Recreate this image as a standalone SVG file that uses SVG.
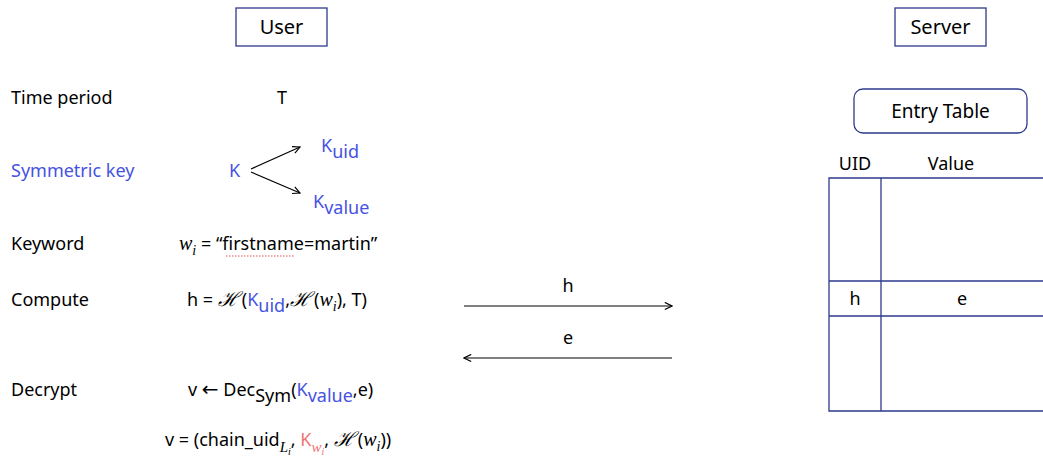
<svg xmlns="http://www.w3.org/2000/svg" width="1043" height="460" viewBox="0 0 1043 460">
<defs>
<style>
text{font-family:"Noto Sans","Open Sans",sans-serif;font-size:18px;fill:#000}
.blue{fill:#4552e2}
.red{fill:#f07373}
.math{font-family:"Liberation Serif","DejaVu Serif",serif;font-style:italic;font-size:20px}
.scr{font-family:"DejaVu Serif","Liberation Serif",serif;font-style:italic;font-size:20px}
.arrowch{font-family:"DejaVu Sans",sans-serif;font-size:20px}
.box{fill:#fff;stroke:#2e3a8c;stroke-width:1.3}
.tbl{fill:none;stroke:#2e3a8c;stroke-width:1.3}
.conn{fill:none;stroke:#000;stroke-width:1.2}
</style>
<marker id="arr" viewBox="0 0 10 10" refX="9" refY="5" markerWidth="9" markerHeight="9" markerUnits="userSpaceOnUse" orient="auto">
<path d="M1,1 L9,5 L1,9" fill="none" stroke="#000" stroke-width="1.3"/>
</marker>
</defs>
<rect width="1043" height="460" fill="#fff"/>

<g id="user">
<rect class="box" x="236" y="8" width="91" height="38"/>
<text x="281.5" y="34" text-anchor="middle" style="font-size:20px">User</text>
</g>
<g id="server">
<rect class="box" x="895" y="8" width="91" height="38"/>
<text x="940.5" y="34" text-anchor="middle" style="font-size:20px">Server</text>
</g>

<g id="labels">
<text x="11" y="104">Time period</text>
<text x="11" y="177" class="blue">Symmetric key</text>
<text x="11" y="250">Keyword</text>
<text x="11" y="306">Compute</text>
<text x="11" y="396">Decrypt</text>
</g>

<g id="time"><text x="282" y="104" text-anchor="middle">T</text></g>

<g id="keys">
<text x="229" y="177" class="blue">K</text>
<text x="321" y="152" class="blue">K<tspan dy="6">uid</tspan></text>
<text x="313" y="208" class="blue">K<tspan dy="6">value</tspan></text>
</g>

<g id="keyword">
<text x="179" y="250"><tspan class="math">w</tspan><tspan class="math" style="font-size:14px" dy="5">i</tspan><tspan dy="-5"> = “firstname=martin”</tspan></text>
<line x1="226" y1="256" x2="295" y2="256" stroke="#e05050" stroke-width="1" stroke-dasharray="1.5,1.5"/>
</g>

<g id="compute">
<text x="187" y="306">h = <tspan class="scr">ℋ</tspan><tspan dx="3">(</tspan><tspan class="blue">K</tspan><tspan class="blue" dy="6">uid</tspan><tspan dy="-6">,</tspan><tspan class="scr">ℋ</tspan><tspan dx="3">(</tspan><tspan class="math">w</tspan><tspan class="math" style="font-size:14px" dy="5">i</tspan><tspan dy="-5">), T)</tspan></text>
</g>

<g id="decrypt">
<text x="188" y="396">v <tspan class="arrowch">←</tspan> Dec<tspan dy="6">Sym</tspan><tspan dy="-6">(</tspan><tspan class="blue">K</tspan><tspan class="blue" dy="6">value</tspan><tspan dy="-6">,e)</tspan></text>
<text x="165" y="446">v = (chain_uid<tspan class="math" style="font-size:15px" dy="6">L</tspan><tspan class="math" style="font-size:10px" dy="3">i</tspan><tspan dy="-9">, </tspan><tspan class="red">K</tspan><tspan class="red math" style="font-size:15px" dy="6">w</tspan><tspan class="red math" style="font-size:10px" dy="3">i</tspan><tspan dy="-9">, </tspan><tspan class="scr">ℋ</tspan><tspan dx="3">(</tspan><tspan class="math">w</tspan><tspan class="math" style="font-size:14px" dy="5">i</tspan><tspan dy="-5">))</tspan></text>
</g>

<g id="entry-table">
<rect class="box" x="854" y="89" width="173" height="44" rx="9"/>
<text x="940.5" y="118" text-anchor="middle" style="font-size:19px">Entry Table</text>
<text x="855" y="170" text-anchor="middle">UID</text>
<text x="951" y="170" text-anchor="middle">Value</text>
<path class="tbl" d="M1044,178 H829 V411 H1044 M881,178 V411 M829,281 H1044 M829,316 H1044"/>
<text x="855" y="305" text-anchor="middle">h</text>
<text x="962" y="305" text-anchor="middle">e</text>
</g>

<g id="connectors">
<line class="conn" x1="251" y1="169" x2="300" y2="147" marker-end="url(#arr)"/>
<line class="conn" x1="251" y1="172" x2="300" y2="193" marker-end="url(#arr)"/>
<line class="conn" x1="464" y1="306" x2="672" y2="306" marker-end="url(#arr)"/>
<line class="conn" x1="672" y1="358" x2="464" y2="358" marker-end="url(#arr)"/>
<text x="568" y="292" text-anchor="middle">h</text>
<text x="568" y="344" text-anchor="middle">e</text>
</g>
</svg>
